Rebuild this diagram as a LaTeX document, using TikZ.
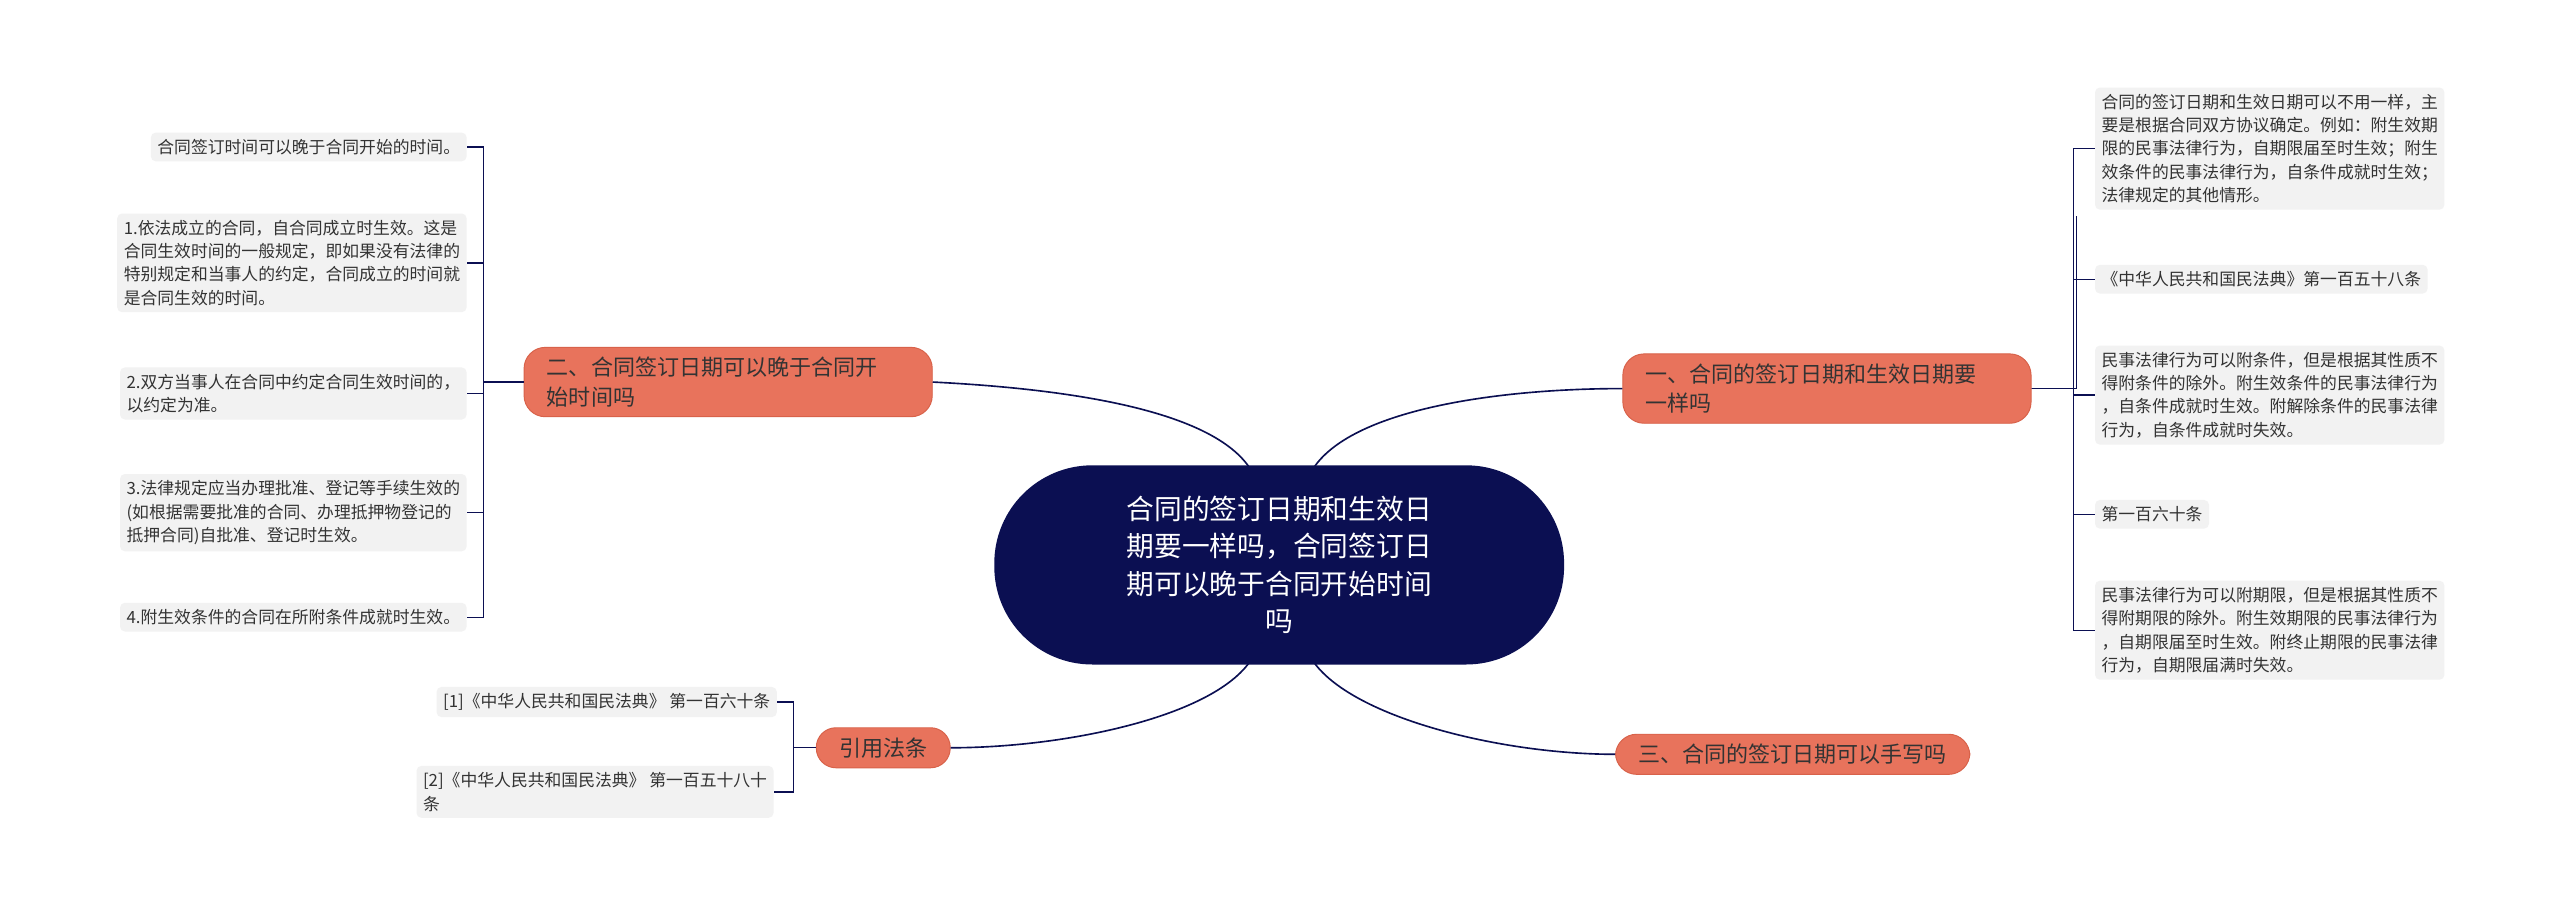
\documentclass[tikz,border=0pt]{standalone}
\usepackage{fontspec}
\setmainfont{Noto Sans CJK SC}
\begin{document}
\begin{tikzpicture}[x=1pt,y=-1pt,
  leaf/.style={fill=black!5,rounded corners=3pt,inner sep=4pt,align=left,text=black!80,font=\fontsize{10.3}{14.3}\selectfont,anchor=west},
  br/.style={fill=orange!20!red!55!white,fill=coral,draw=coraldark,line width=0.6pt,rounded corners=13pt,align=left,text=black!80,font=\fontsize{13.5}{18}\selectfont,inner xsep=14pt,inner ysep=6pt},
  link/.style={draw=navy,line width=1pt}]
\definecolor{coral}{HTML}{E8735C}
\definecolor{coraldark}{HTML}{D8624A}
\definecolor{navy}{HTML}{0B0F52}
\useasboundingbox[fill=white] (0,0) rectangle (1568,555);
% center
\node[fill=navy,rounded corners=60pt,minimum width=349pt,minimum height=122pt,text=white,align=center,font=\fontsize{17}{23}\selectfont] (c) at (783.5,346) {合同的签订日期和生效日\\期要一样吗，合同签订日\\期可以晚于合同开始时间\\吗};
% branches
\node[br,text width=222pt] (b1) at (1119,238) {一、合同的签订日期和生效日期要\\一样吗};
\node[br] (b3) at (1098,462) {三、合同的签订日期可以手写吗};
\node[br,text width=222pt] (b2) at (446,234) {二、合同签订日期可以晚于合同开\\始时间吗};
\node[br,rounded corners=12pt] (b4) at (541,458) {引用法条};
% right leaves
\node[leaf] (r1) at (1283,91) {合同的签订日期和生效日期可以不用一样，主\\要是根据合同双方协议确定。例如：附生效期\\限的民事法律行为，自期限届至时生效；附生\\效条件的民事法律行为，自条件成就时生效；\\法律规定的其他情形。};
\node[leaf] (r2) at (1283,171) {《中华人民共和国民法典》第一百五十八条};
\node[leaf] (r3) at (1283,242) {民事法律行为可以附条件，但是根据其性质不\\得附条件的除外。附生效条件的民事法律行为\\，自条件成就时生效。附解除条件的民事法律\\行为，自条件成就时失效。};
\node[leaf] (r4) at (1283,315) {第一百六十条};
\node[leaf] (r5) at (1283,386) {民事法律行为可以附期限，但是根据其性质不\\得附期限的除外。附生效期限的民事法律行为\\，自期限届至时生效。附终止期限的民事法律\\行为，自期限届满时失效。};
% left leaves
\node[leaf,anchor=east] (l1) at (286,90) {合同签订时间可以晚于合同开始的时间。};
\node[leaf,anchor=east] (l2) at (286,161) {1.依法成立的合同，自合同成立时生效。这是\\合同生效时间的一般规定，即如果没有法律的\\特别规定和当事人的约定，合同成立的时间就\\是合同生效的时间。};
\node[leaf,anchor=east] (l3) at (286,241) {2.双方当事人在合同中约定合同生效时间的，\\以约定为准。};
\node[leaf,anchor=east] (l4) at (286,314) {3.法律规定应当办理批准、登记等手续生效的\\(如根据需要批准的合同、办理抵押物登记的\\抵押合同)自批准、登记时生效。};
\node[leaf,anchor=east] (l5) at (286,378) {4.附生效条件的合同在所附条件成就时生效。};
% cite leaves
\node[leaf,anchor=east] (c1) at (476,430) {[1]《中华人民共和国民法典》 第一百六十条};
\node[leaf,anchor=east] (c2) at (474,485) {[2]《中华人民共和国民法典》 第一百五十八十\\条};
% center links
\draw[link] (765,286) .. controls (740,250) and (650,238) .. (b2.east);
\draw[link] (805,286) .. controls (830,250) and (920,238) .. (b1.west);
\draw[link] (765,406) .. controls (740,440) and (650,458) .. (b4.east);
\draw[link] (805,406) .. controls (830,440) and (920,462) .. (b3.west);
% right bracket
\foreach \n in {r1,r2,r3,r4,r5}
  \draw[link,line width=0.8pt] (b1.east) .. controls (1272,238) and (1272,238) .. (1272,238)
     .. controls (1272,238) and (1272,{0}) .. (1272,238);
\foreach \n in {r1,r2,r3,r4,r5}
  \draw[link,line width=0.8pt] (b1.east) .. controls (1270,238) and (1268,238) .. (1270,238) |- (\n.west);
% left bracket
\foreach \n in {l1,l2,l3,l4,l5}
  \draw[link,line width=0.8pt] (b2.west) -- (296,234) |- (\n.east);
\foreach \n in {c1,c2}
  \draw[link,line width=0.8pt] (b4.west) -- (486,458) |- (\n.east);
\end{tikzpicture}
\end{document}
